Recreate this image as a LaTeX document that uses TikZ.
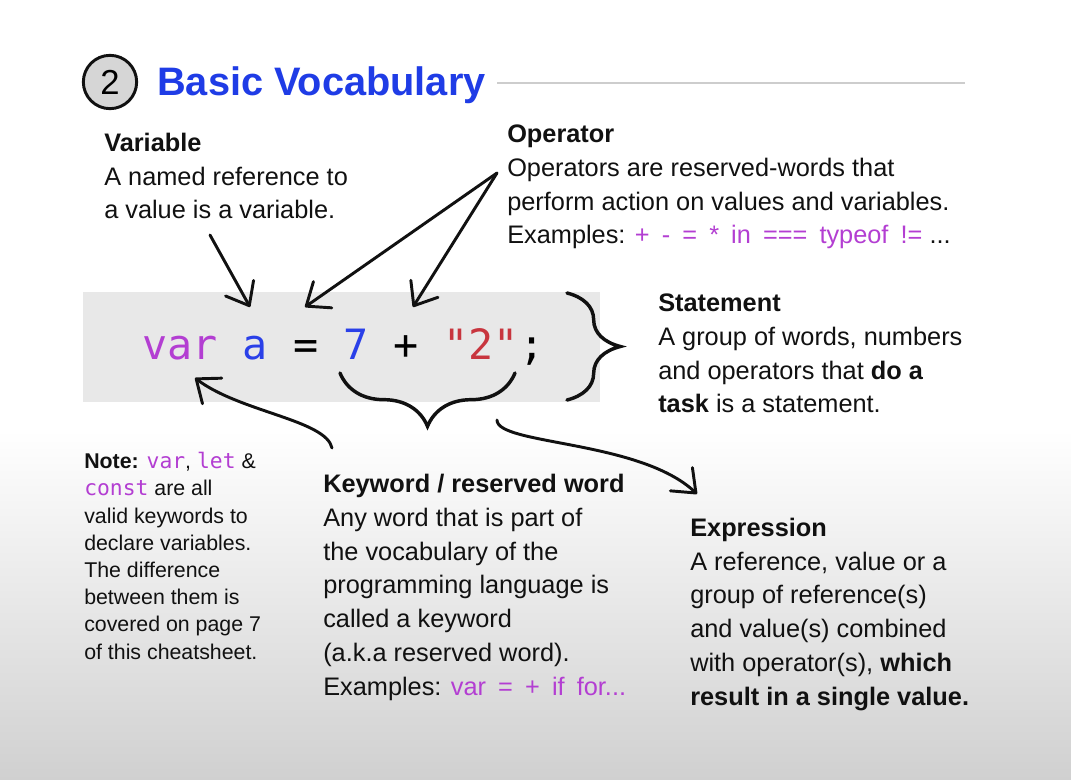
\documentclass[tikz,border=0pt]{standalone}
\usepackage{fontspec}
\setmainfont{Liberation Sans}
\setmonofont{DejaVu Sans Mono}
\usetikzlibrary{arrows.meta,decorations.pathreplacing}

\definecolor{headblue}{HTML}{1F3CE6}
\definecolor{kwpurple}{HTML}{B33ED2}
\definecolor{numblue}{HTML}{2A40E8}
\definecolor{strred}{HTML}{C8353E}
\definecolor{codegrey}{HTML}{E8E8E8}
\definecolor{circgrey}{HTML}{D6D6D6}
\definecolor{rulegrey}{HTML}{CDCDCD}
\definecolor{bggrey}{HTML}{D0D0D0}
\definecolor{inkblack}{HTML}{111111}

\newcommand{\kw}[1]{\textcolor{kwpurple}{#1}}
\newcommand{\kwtt}[1]{\textcolor{kwpurple}{\ttfamily #1}}
\newcommand{\gap}{\ \kern0.2em}

% anchor base = baseline of the LAST line of a block
\tikzset{
  desc/.style={anchor=base west, align=left, inner sep=0pt, text=inkblack,
    font=\fontsize{19}{25.3}\selectfont},
  notetext/.style={desc, font=\fontsize{16}{20.4}\selectfont},
  codetok/.style={anchor=base, inner sep=0pt, font=\fontsize{31.3}{36}\ttfamily},
  hand/.style={draw=inkblack, line width=2.2pt, line cap=round, line join=round,
    -{Straight Barb[length=15pt,width=24pt,round]}},
  curly/.style={draw=inkblack, line width=2.6pt, line cap=round, decorate,
    decoration={brace, amplitude=40pt}}
}

\begin{document}
\begin{tikzpicture}[x=0.75pt,y=-0.75pt]
\useasboundingbox (0,0) rectangle (1071,780);
\fill[white] (0,0) rectangle (1071,430);
\shade[top color=white,bottom color=bggrey] (0,430) rectangle (1071,780);

% heading
\node[circle, draw=inkblack, line width=2.2pt, fill=circgrey, minimum size=40pt,
  inner sep=0pt, font=\fontsize{26}{26}\selectfont] (num) at (110,82) {2};
\node[anchor=base west, inner sep=0pt, text=headblue,
  font=\fontsize{29.8}{30}\selectfont\bfseries] (title) at (157,96) {Basic Vocabulary};
\draw[rulegrey, line width=1.5pt] (497,83) -- (965,83);

% the statement
\fill[codegrey] (83,292) rectangle (600,402);
\node[codetok, text=kwpurple] (kvar) at (180,360) {var};
\node[codetok, text=numblue] (vara) at (255,360) {a};
\node[codetok] (eqop) at (306,360) {=};
\node[codetok, text=numblue] (seven) at (356,360) {7};
\node[codetok] (plusop) at (406,360) {+};
\node[codetok, text=strred] (strtwo) at (481,360) {"2"};
\node[codetok] (semi) at (532,360) {;};

% texts
\node[desc] (variable) at (104,219) {\textbf{Variable}\\A named reference to\\a value is a variable.};
\node[desc] (operator) at (507,244) {\textbf{Operator}\\Operators are reserved-words that\\perform action on values and variables.\\Examples: \kw{+\gap-\gap=\gap*\gap in\gap===\gap typeof\gap!=}\ ...};
\node[desc] (statement) at (658,413) {\textbf{Statement}\\A group of words, numbers\\and operators that \textbf{do a}\\\textbf{task} is a statement.};
\node[notetext] (note) at (84,659) {\textbf{Note:} \kwtt{var}, \kwtt{let} \&\\\kwtt{const} are all\\valid keywords to\\declare variables.\\The difference\\between them is\\covered on page 7\\of this cheatsheet.};
\node[desc] (keyword) at (323,695) {\textbf{Keyword / reserved word}\\Any word that is part of\\the vocabulary of the\\programming language is\\called a keyword\\(a.k.a reserved word).\\Examples: \kw{var\gap=\gap+\gap if\gap for...}};
\node[desc] (expression) at (690,705) {\textbf{Expression}\\A reference, value or a\\group of reference(s)\\and value(s) combined\\with operator(s), \textbf{which}\\\textbf{result in a single value.}};

% braces
\coordinate (stmt-top) at (567,293);
\coordinate (stmt-bot) at (567,400);
\coordinate (expr-left) at (340,373);
\coordinate (expr-right) at (515,373);
\draw[curly] (stmt-top) -- (stmt-bot);
\draw[curly] (expr-right) -- (expr-left);

% arrows
\coordinate (var-from) at (210,235);
\coordinate (var-to) at (250,307);
\coordinate (op-from) at (497,173);
\coordinate (eq-to) at (305,307);
\coordinate (plus-to) at (413,307);
\coordinate (kw-from) at (332,448);
\coordinate (kvar-to) at (195,378);
\coordinate (expr-from) at (497,420);
\coordinate (expr-to) at (697,494);
\draw[hand] (var-from) -- (var-to);
\draw[hand] (op-from) -- (eq-to);
\draw[hand] (op-from) -- (plus-to);
\draw[hand] (kw-from) .. controls (326,420) and (240,412) .. (kvar-to);
\draw[hand] (expr-from) .. controls (497,445) and (640,440) .. (expr-to);
\end{tikzpicture}
\end{document}
